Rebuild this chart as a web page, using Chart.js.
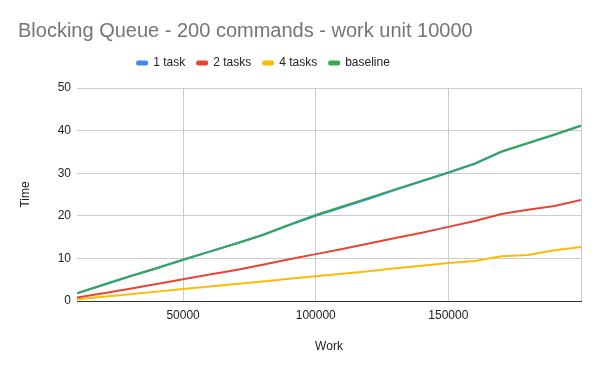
<!DOCTYPE html>
<html lang="en">
  <head>
    <meta charset="UTF-8" />
    <title>Blocking Queue</title>
    <style>
      html, body { margin: 0; padding: 0; background: #fff; }
      .chart-view { width: 600px; height: 371px; }
    </style>
  </head>
  <body>
    <div class="chart-view">
      <canvas id="chart"></canvas>
    </div>

    <script src="https://cdn.jsdelivr.net/npm/chart.js@4.4.0/dist/chart.umd.min.js"></script>
    <script>
      //data
      const work = [10000, 20000, 30000, 40000, 50000, 60000, 70000, 80000, 90000, 100000,
        110000, 120000, 130000, 140000, 150000, 160000, 170000, 180000, 190000, 200000];
      const oneTask = [1.8, 3.8, 5.8, 7.7, 9.7, 11.6, 13.5, 15.5, 17.8, 20.0,
        22.0, 24.0, 26.1, 28.1, 30.1, 32.2, 35.0, 37.0, 39.0, 41.1];
      const twoTasks = [0.8, 1.8, 2.9, 4.0, 5.1, 6.2, 7.3, 8.5, 9.8, 11.0,
        12.2, 13.5, 14.8, 16.0, 17.4, 18.8, 20.4, 21.4, 22.3, 23.7];
      const fourTasks = [0.4, 1.0, 1.6, 2.2, 2.8, 3.4, 4.0, 4.6, 5.2, 5.8,
        6.4, 7.0, 7.7, 8.3, 8.9, 9.4, 10.5, 10.8, 11.9, 12.7];
      const baseline = [1.8, 3.8, 5.8, 7.7, 9.7, 11.6, 13.5, 15.5, 17.9, 20.2,
        22.2, 24.2, 26.2, 28.2, 30.2, 32.3, 35.1, 37.1, 39.1, 41.2];
      const xTicks = [50000, 100000, 150000];

      const font = "'Liberation Sans', Arial, sans-serif";
      const toPoints = (ys) => ys.map((y, i) => ({ x: work[i], y: y }));

      const line = (label, ys, color, order) => ({
        label: label,
        data: toPoints(ys),
        borderColor: color,
        backgroundColor: color,
        borderWidth: 2,
        pointRadius: 0,
        tension: 0,
        fill: false,
        order: order
      });

      // legend sits left of centre and has extra space under it
      const legendSpacing = {
        id: 'legendSpacing',
        beforeInit(chart) {
          const fit = chart.legend.fit;
          chart.legend.fit = function () {
            fit.bind(chart.legend)();
            this.height += 9;
          };
        },
        afterLayout(chart) {
          chart.legend.left -= 36;
          chart.legend.right -= 36;
        }
      };

      //config
      const config = {
        type: 'line',
        data: {
          datasets: [
            line('1 task', oneTask, '#4285F4', 1),
            line('2 tasks', twoTasks, '#EA4335', 1),
            line('4 tasks', fourTasks, '#FBBC04', 1),
            line('baseline', baseline, '#34A853', 0)
          ]
        },
        options: {
          responsive: true,
          maintainAspectRatio: false,
          animation: false,
          layout: { padding: { left: 18, right: 19, top: 0, bottom: 0 } },
          plugins: {
            title: {
              display: true,
              text: 'Blocking Queue - 200 commands - work unit 10000',
              align: 'start',
              color: '#757575',
              font: { family: font, size: 20, weight: 'normal' },
              padding: { top: 19, bottom: 2 }
            },
            legend: {
              labels: {
                boxWidth: 10,
                boxHeight: 3,
                padding: 12,
                useBorderRadius: true,
                borderRadius: 1,
                color: '#222',
                font: { family: font, size: 12 },
                sort: (a, b) => a.datasetIndex - b.datasetIndex
              }
            },
            tooltip: { enabled: false }
          },
          scales: {
            x: {
              type: 'linear',
              min: 10000,
              max: 200000,
              afterBuildTicks: (s) => {
                s.ticks = xTicks.concat([200000]).map((v) => ({ value: v }));
              },
              afterFit: (s) => { s.height = 70; },
              grid: { color: '#ccc', drawTicks: false },
              border: { color: '#333', width: 1 },
              ticks: {
                padding: 7,
                color: '#222',
                font: { family: font, size: 12 },
                maxRotation: 0,
                callback: (v) => (xTicks.includes(v) ? String(v) : '')
              },
              title: {
                display: true,
                text: 'Work',
                color: '#222',
                font: { family: font, size: 12 },
                padding: { top: 0, bottom: 17 }
              }
            },
            y: {
              min: 0,
              max: 50,
              afterFit: (s) => { s.width = 59; },
              grid: { color: '#ccc', drawTicks: false },
              border: { display: false },
              ticks: {
                stepSize: 10,
                padding: 6,
                color: '#222',
                font: { family: font, size: 12 }
              },
              title: {
                display: true,
                text: 'Time',
                color: '#222',
                font: { family: font, size: 12 },
                padding: { top: 0, bottom: 0 }
              }
            }
          }
        },
        plugins: [legendSpacing]
      };

      //init
      const ctx = document.getElementById('chart');
      const chart = new Chart(ctx, config);
    </script>
  </body>
</html>
